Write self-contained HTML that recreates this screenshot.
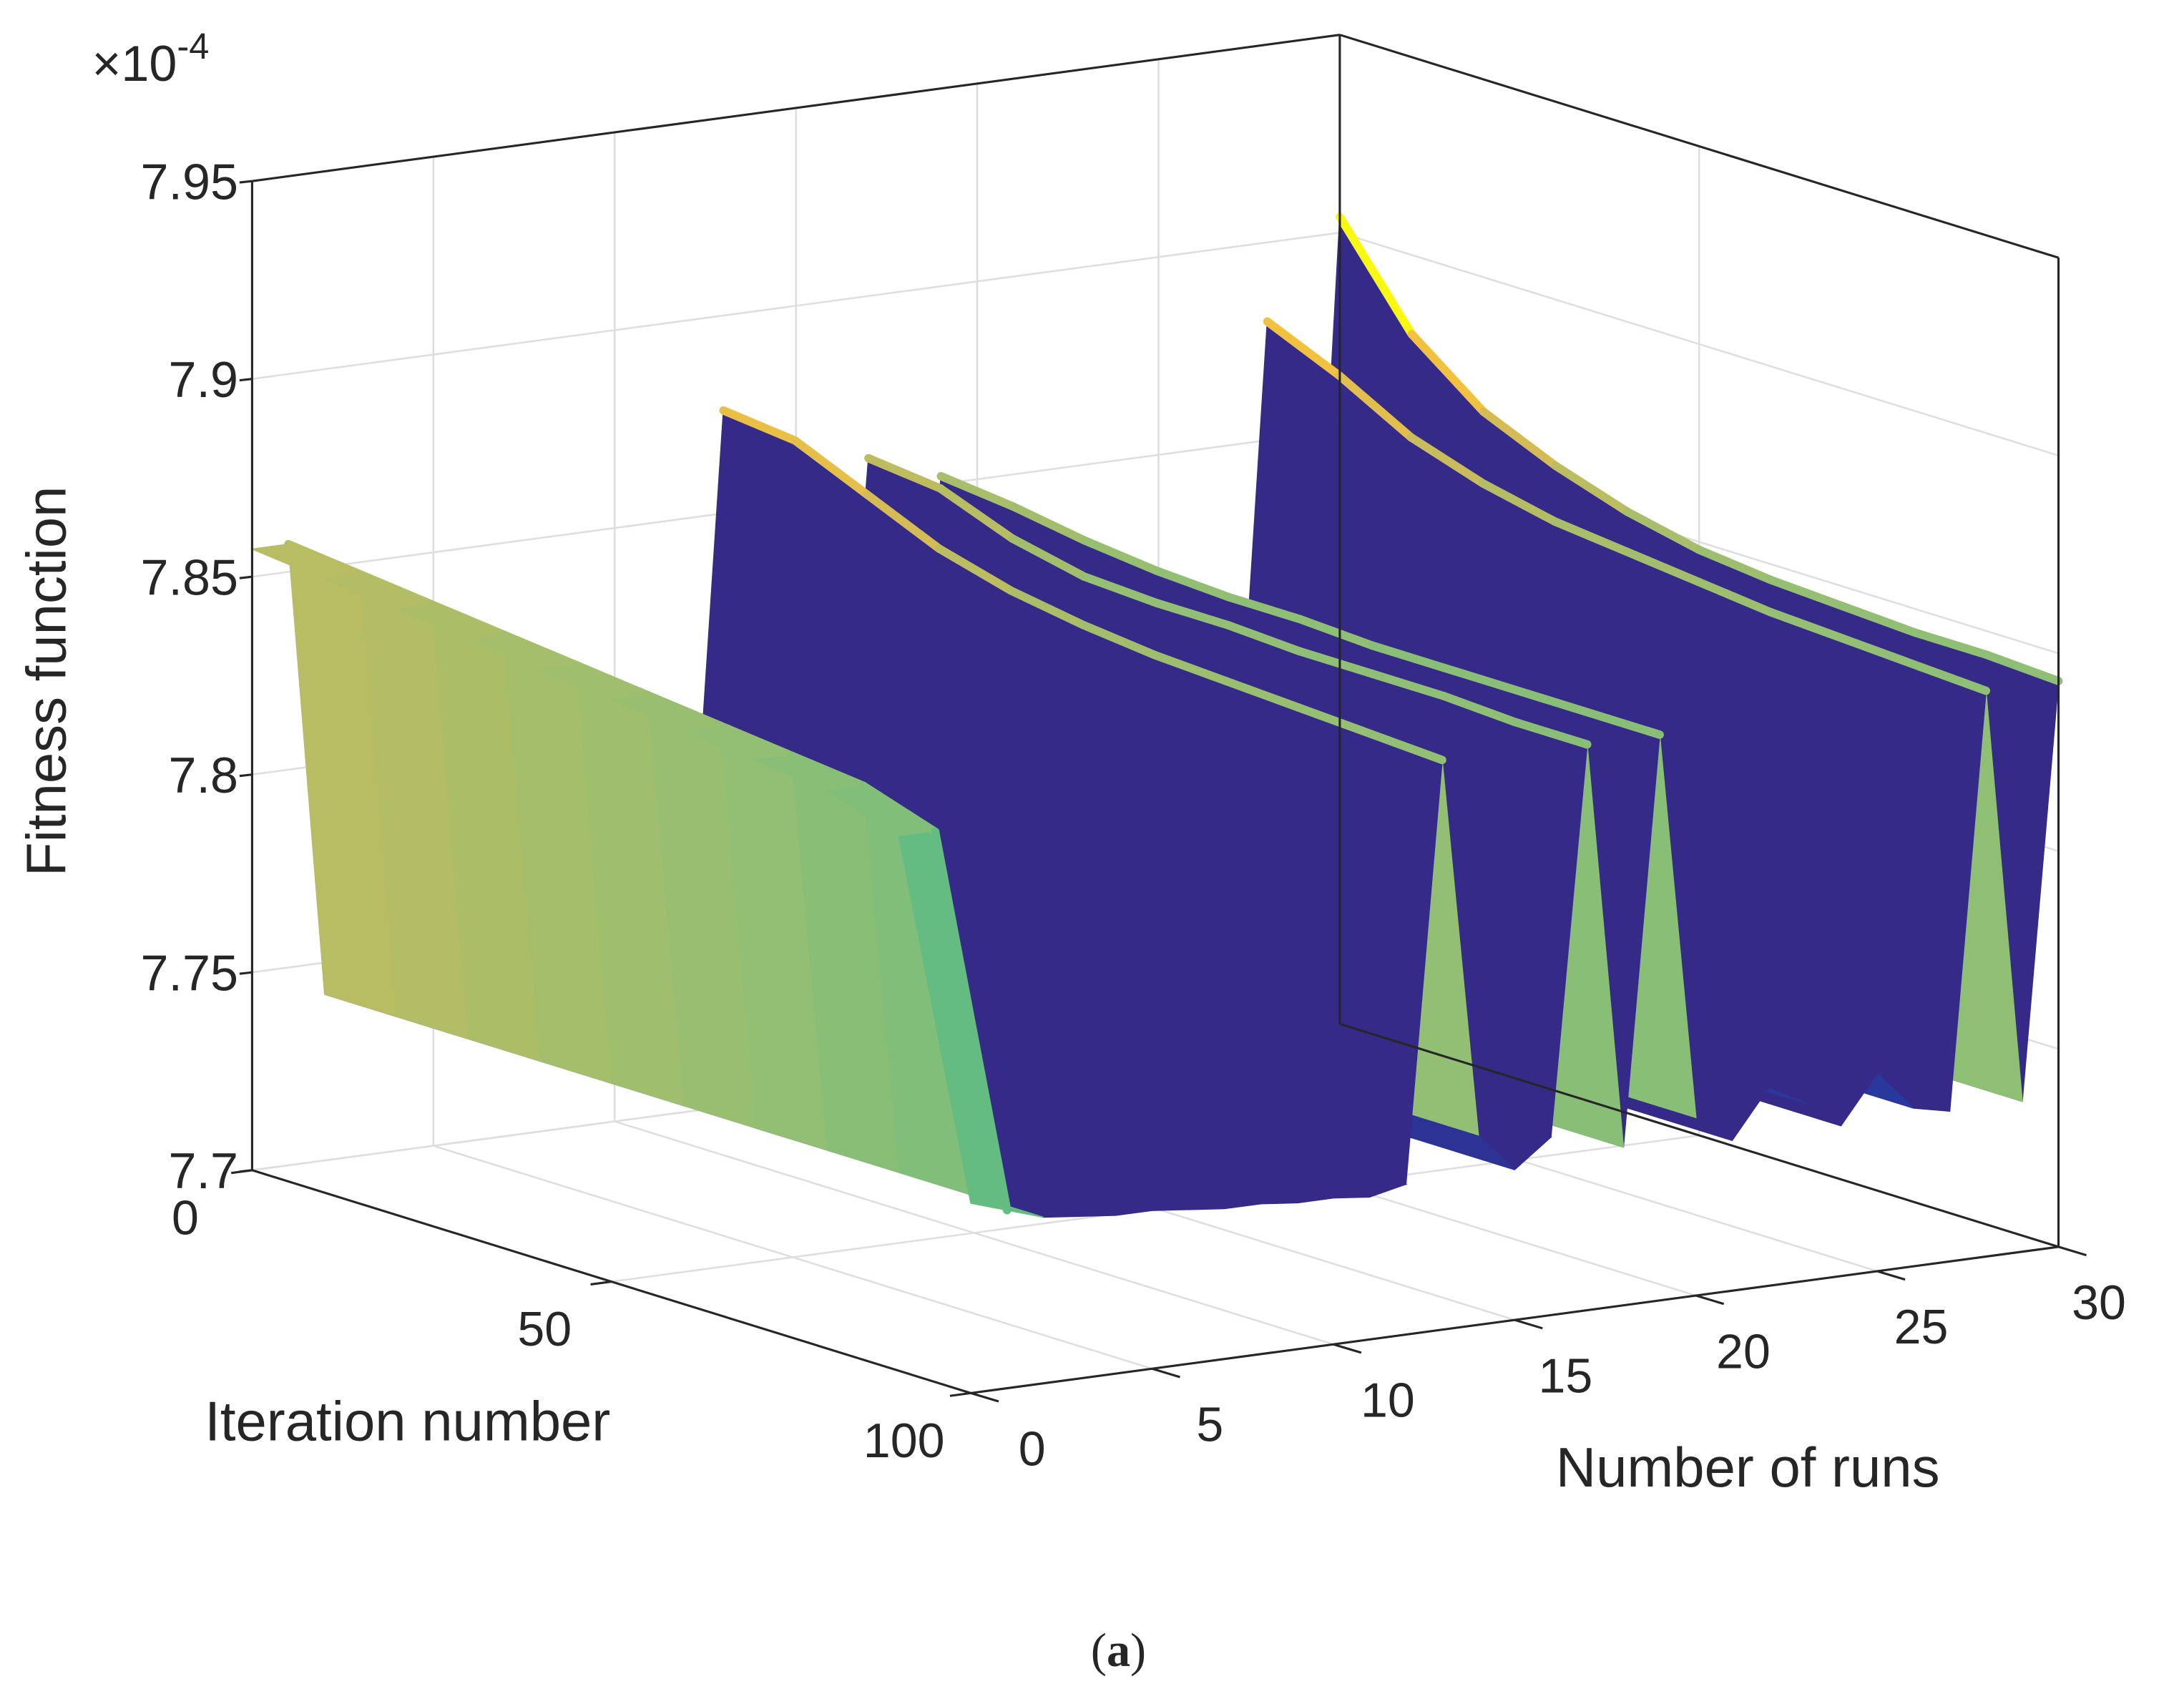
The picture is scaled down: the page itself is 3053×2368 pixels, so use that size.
<!DOCTYPE html>
<html><head><meta charset="utf-8"><style>
html,body{margin:0;padding:0;background:#fff;}
svg{display:block;}
text{font-family:"Liberation Sans",sans-serif;fill:#262626;}
</style></head><body>
<svg id="chart" width="3053" height="2368" viewBox="0 0 1568 1216" preserveAspectRatio="none" xmlns="http://www.w3.org/2000/svg">
<g id="grid"></g>
<g id="surf"></g>
<g id="box"></g>
<g id="labels">
<text x="66" y="58" font-size="36">×10<tspan font-size="26" dy="-16">-4</tspan></text>
<text x="0" y="0" font-size="40" text-anchor="middle" transform="translate(47,489) rotate(-90)">Fitness function</text>
<text x="147" y="1034" font-size="40">Iteration number</text>
<text x="1117" y="1067" font-size="40">Number of runs</text>
<text x="803" y="1196" font-size="34" text-anchor="middle" style="font-family:'Liberation Serif',serif">(<tspan font-weight="bold">a</tspan>)</text>
</g>
</svg>
<script>
const zTicks=[7.7,7.75,7.8,7.85,7.9,7.95];
const zTickLabels=["7.7","7.75","7.8","7.85","7.9","7.95"];
const iterTicks=[0,50,100];
const runTicks=[0,5,10,15,20,25,30];
const iterSamples=[0,10,20,30,40,50,60,70,80,90,100];
const highRun0=[7.857,7.855,7.853,7.851,7.849,7.847,7.845,7.843,7.841,7.835,7.748];
const highRun1=[7.857,7.855,7.853,7.851,7.849,7.847,7.845,7.843,7.841,7.835,7.745];
const highRun13=[7.876,7.874,7.866,7.858,7.853,7.850,7.848,7.847,7.846,7.845,7.844];
const highRun17=[7.859,7.857,7.850,7.846,7.845,7.845,7.844,7.844,7.844,7.843,7.843];
const highRun19=[7.852,7.850,7.847,7.845,7.844,7.844,7.843,7.843,7.843,7.843,7.843];
const highRun28=[7.880,7.872,7.862,7.856,7.852,7.850,7.848,7.846,7.845,7.844,7.843];
const highRun30=[7.904,7.880,7.866,7.858,7.852,7.848,7.846,7.845,7.844,7.844,7.843];
const baseline=[7.748,7.748,7.742,7.741,7.740,7.740,7.739,7.738,7.738,7.737,7.737,7.736,7.738,7.750,7.748,7.738,7.745,7.750,7.740,7.752,7.745,7.738,7.750,7.745,7.738,7.750,7.740,7.738,7.750,7.738,7.745];
const zMin=7.745,zMax=7.905;
const NS="http://www.w3.org/2000/svg";
function P(it,run,z){return [181+it*5.16+run*26.03, 840+it*1.6-run*3.5-(z-7.7)/0.05*142];}
function mk(tag,attrs,parent){const e=document.createElementNS(NS,tag);for(const k in attrs)e.setAttribute(k,attrs[k]);parent.appendChild(e);return e;}
const parula=[[53,42,135],[3,99,225],[20,132,212],[8,160,196],[56,185,145],[146,191,115],[210,187,88],[254,195,56],[249,251,14]];
function col(z){let t=Math.max(0,Math.min(1,(z-zMin)/(zMax-zMin)))*8;const i=Math.min(7,Math.floor(t)),f=t-i;const a=parula[i],b=parula[i+1];return `rgb(${a.map((v,k)=>Math.round(v+(b[k]-v)*f)).join(',')})`;}
const Z=[];
for(let r=0;r<=30;r++){Z.push(iterSamples.map(()=>baseline[r]));}
Z[0]=highRun0.slice();Z[1]=highRun1.slice();Z[13]=highRun13.slice();Z[17]=highRun17.slice();Z[19]=highRun19.slice();Z[28]=highRun28.slice();Z[30]=highRun30.slice();
const grid=document.getElementById('grid'),surf=document.getElementById('surf'),box=document.getElementById('box'),labels=document.getElementById('labels');
const gs={stroke:'#dedede','stroke-width':1.3,fill:'none'};
function line(g,a,b,st,name){const l=mk('line',Object.assign({x1:a[0],y1:a[1],x2:b[0],y2:b[1]},st),g);return l;}
zTicks.forEach(z=>{line(grid,P(0,0,z),P(0,30,z),gs,'grid-back');line(grid,P(0,30,z),P(100,30,z),gs,'grid-right');});
runTicks.forEach(r=>{line(grid,P(0,r,7.7),P(0,r,7.95),gs,'grid-back-vertical');line(grid,P(0,r,7.7),P(100,r,7.7),gs,'grid-floor');});
iterTicks.forEach(i=>{line(grid,P(i,30,7.7),P(i,30,7.95),gs,'grid-right-vertical');line(grid,P(i,0,7.7),P(i,30,7.7),gs,'grid-floor');});
for(let r=29;r>=0;r--){
  for(let k=0;k<iterSamples.length-1;k++){
    const i0=iterSamples[k],i1=iterSamples[k+1];
    const pts=[P(i0,r,Z[r][k]),P(i1,r,Z[r][k+1]),P(i1,r+1,Z[r+1][k+1]),P(i0,r+1,Z[r+1][k])];
    const c=col(Z[r][k]);
    const q=mk('polygon',{points:pts.map(p=>p.join(',')).join(' '),fill:c,stroke:c,'stroke-width':0.8},surf);
    
    
  }
}
[1,13,17,19,28,30].forEach(r=>{
  for(let k=0;k<iterSamples.length-1;k++){
    const a=P(iterSamples[k],r,Z[r][k]),b=P(iterSamples[k+1],r,Z[r][k+1]);
    const l=mk('line',{x1:a[0],y1:a[1],x2:b[0],y2:b[1],stroke:col(Math.max(Z[r][k],Z[r][k+1])),'stroke-width':6,'stroke-linecap':'round'},surf);
    
    
  }
});
const bs={stroke:'#262626','stroke-width':1.6,fill:'none'};
line(box,P(0,0,7.7),P(0,0,7.95),bs,'z-axis');
line(box,P(0,0,7.95),P(0,30,7.95),bs,'box-edge');
line(box,P(0,30,7.7),P(0,30,7.95),bs,'box-edge');
line(box,P(0,30,7.95),P(100,30,7.95),bs,'box-edge');
line(box,P(100,30,7.7),P(100,30,7.95),bs,'box-edge');
line(box,P(0,30,7.7),P(100,30,7.7),bs,'box-edge');
line(box,P(0,0,7.7),P(100,0,7.7),bs,'iteration-axis');
line(box,P(100,0,7.7),P(100,30,7.7),bs,'run-axis');
zTicks.forEach((z,i)=>{const p=P(0,0,z);line(box,p,[p[0]-9,p[1]+1],bs,'z-tick');
  const t=mk('text',{x:p[0]-10,y:p[1]+13,'font-size':36,'text-anchor':'end'},labels);t.textContent=zTickLabels[i];
  });
iterTicks.forEach(i=>{const p=P(i,0,7.7);line(box,p,[p[0]-15,p[1]+2],bs,'iteration-tick');
  const t=mk('text',{x:p[0]-48,y:p[1]+46,'font-size':35,'text-anchor':'middle'},labels);t.textContent=String(i);
  });
runTicks.forEach(r=>{const p=P(100,r,7.7);line(box,p,[p[0]+20,p[1]+6],bs,'run-tick');
  const t=mk('text',{x:p[0]+44-r*0.5,y:p[1]+52,'font-size':35,'text-anchor':'middle'},labels);t.textContent=String(r);
  });
</script>
</body></html>
